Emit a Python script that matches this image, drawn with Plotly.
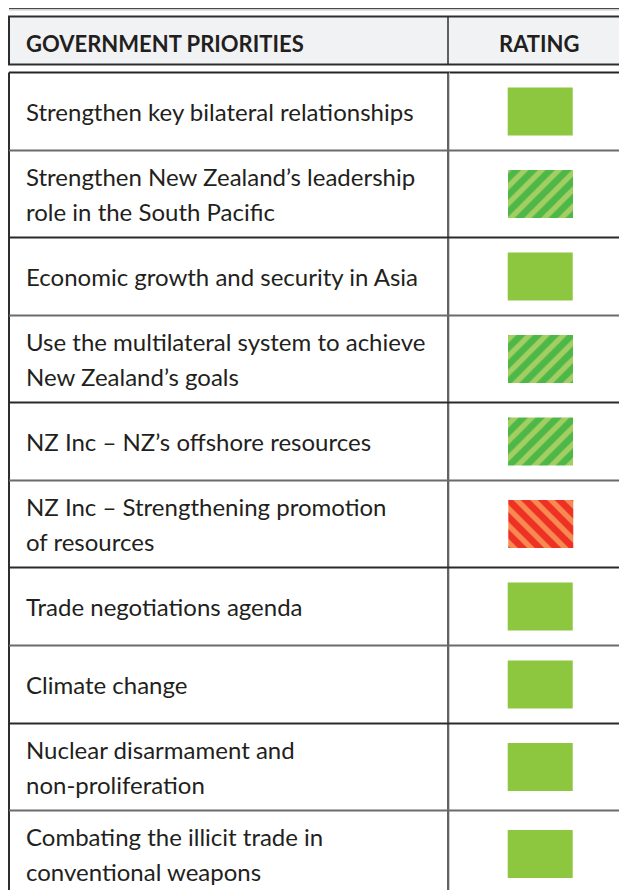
import plotly.graph_objects as go

# ---- data ----
header_left = "GOVERNMENT PRIORITIES"
header_right = "RATING"
priorities = [
    "Strengthen key bilateral relationships",
    "Strengthen New Zealand\u2019s leadership<br>role in the South Pacific",
    "Economic growth and security in Asia",
    "Use the multilateral system to achieve<br>New Zealand\u2019s goals",
    "NZ Inc \u2013 NZ\u2019s offshore resources",
    "NZ Inc \u2013 Strengthening promotion<br>of resources",
    "Trade negotiations agenda",
    "Climate change",
    "Nuclear disarmament and<br>non-proliferation",
    "Combating the illicit trade in<br>conventional weapons",
]
ratings = ["green", "green_hatch", "green", "green_hatch", "green_hatch",
           "red_hatch", "green", "green", "green", "green"]

# ---- styles ----
W, H = 627, 890
OFF = 8  # page body margin
FONT = "Lato"
TXT = "#231f20"
X_LEFT, X_DIV, X_RIGHT = 9, 448, 660
Y_TOPLINE, Y_HEAD_TOP, Y_HEAD_BOT, Y_BODY_TOP = 8.5, 16.5, 64.5, 72.5
ROW_H = {1: 78, 2: 87}
BOX_W, BOX_H, BOX_X = 65, 48, 540.5
LINE_SP = 35

styles = {
    "green": dict(color="#8dc63f", pattern=dict(shape="")),
    "green_hatch": dict(color="#4db848",
                        pattern=dict(shape="/", fgcolor="#fae37c", bgcolor="#4db848",
                                     size=12, solidity=0.45)),
    "red_hatch": dict(color="#ee3124",
                      pattern=dict(shape="\\", fgcolor="#fde37e", bgcolor="#ee3124",
                                   size=12, solidity=0.45)),
}

# row geometry
tops, centers = [], []
y = Y_BODY_TOP
for p in priorities:
    n = p.count("<br>") + 1
    h = ROW_H[n]
    tops.append(y)
    centers.append(y + h / 2)
    y += h

fig = go.Figure()

for key, st in styles.items():
    idx = [i for i, r in enumerate(ratings) if r == key]
    if not idx:
        continue
    fig.add_trace(go.Bar(
        x=[BOX_X] * len(idx),
        y=[BOX_H] * len(idx),
        base=[centers[i] - BOX_H / 2 for i in idx],
        width=BOX_W,
        marker=dict(color=st["color"], line=dict(width=0), pattern=st["pattern"]),
        hoverinfo="skip", showlegend=False,
    ))

shapes = []
# top rule
shapes.append(dict(type="line", x0=9, x1=X_RIGHT, y0=Y_TOPLINE, y1=Y_TOPLINE,
                   line=dict(color="#4a4a4a", width=1.5)))
shapes.append(dict(type="line", x0=9, x1=X_RIGHT, y0=Y_TOPLINE + 1.5, y1=Y_TOPLINE + 1.5,
                   line=dict(color="#c8c8c8", width=1)))
# header box
shapes.append(dict(type="rect", x0=X_LEFT, x1=X_RIGHT, y0=Y_HEAD_TOP, y1=Y_HEAD_BOT,
                   fillcolor="#f1f2f4", line=dict(color="#2e2e2e", width=2), layer="below"))
shapes.append(dict(type="line", x0=X_DIV, x1=X_DIV, y0=Y_HEAD_TOP, y1=Y_HEAD_BOT,
                   line=dict(color="#2e2e2e", width=1.5)))
# body
shapes.append(dict(type="line", x0=X_LEFT, x1=X_RIGHT, y0=Y_BODY_TOP, y1=Y_BODY_TOP,
                   line=dict(color="#262626", width=2)))
shapes.append(dict(type="line", x0=X_LEFT, x1=X_LEFT, y0=Y_BODY_TOP, y1=H + 40,
                   line=dict(color="#2e2e2e", width=2)))
shapes.append(dict(type="line", x0=X_DIV, x1=X_DIV, y0=Y_BODY_TOP, y1=H + 40,
                   line=dict(color="#2e2e2e", width=1.5)))
shapes.append(dict(type="line", x0=X_DIV + 1.5, x1=X_DIV + 1.5, y0=Y_BODY_TOP, y1=H + 40,
                   line=dict(color="#cfcfcf", width=1)))
for i, t in enumerate(tops[1:]):
    col = "#6b6b6b" if i % 2 == 0 else "#2a2a2a"
    shapes.append(dict(type="line", x0=X_LEFT, x1=X_RIGHT, y0=t, y1=t,
                       line=dict(color=col, width=2)))

annotations = [
    dict(x=24, y=43, text="<b>" + header_left + "</b>", xanchor="left", yanchor="middle",
         showarrow=False, font=dict(family=FONT, size=22, color=TXT)),
    dict(x=539, y=43, text="<b>" + header_right + "</b>", xanchor="center", yanchor="middle",
         showarrow=False, font=dict(family=FONT, size=22, color=TXT)),
]
for p, c in zip(priorities, centers):
    lines = p.split("<br>")
    n = len(lines)
    for k, ln in enumerate(lines):
        yy = c + (k - (n - 1) / 2) * LINE_SP
        annotations.append(dict(x=24, y=yy, text=ln, xanchor="left", yanchor="middle",
                                showarrow=False, font=dict(family=FONT, size=24, color=TXT)))

fig.update_layout(
    width=W, height=H, margin=dict(l=0, r=0, t=0, b=0),
    paper_bgcolor="white", plot_bgcolor="white",
    xaxis=dict(range=[OFF, W + OFF], visible=False, fixedrange=True),
    yaxis=dict(range=[H + OFF, OFF], visible=False, fixedrange=True),
    shapes=shapes, annotations=annotations,
)

fig.write_html("out.html")
